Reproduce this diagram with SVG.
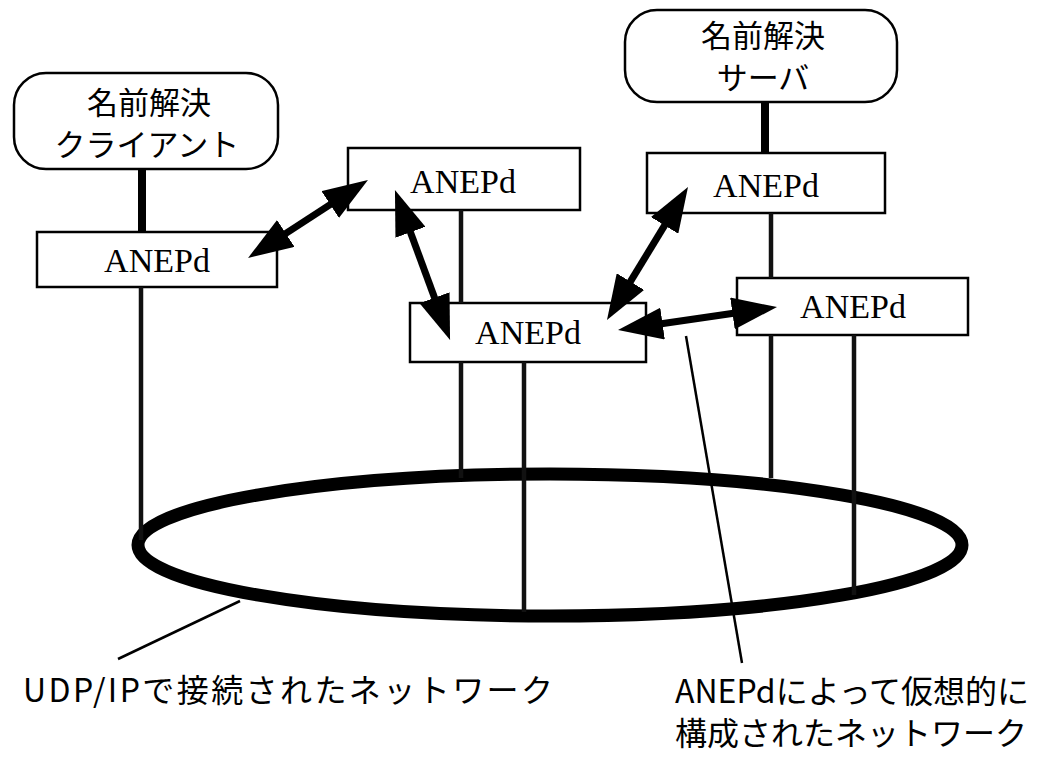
<svg xmlns="http://www.w3.org/2000/svg" width="1045" height="759" viewBox="0 0 1045 759">
<style>
.rbox{fill:#fff;stroke:#000;stroke-width:2.5}
.box{fill:#fff;stroke:#000;stroke-width:2.5}
.jp{font-family:"Noto Sans CJK JP","Noto Sans",sans-serif;font-size:32px;fill:#000}
.jn{font-family:"Noto Sans CJK JP","Noto Sans",sans-serif;font-size:31px;fill:#000}
.an{font-family:"Liberation Serif",serif;font-size:34px;fill:#000}
.link{stroke:#000;stroke-width:8}
.drop{stroke:#111;stroke-width:4.5}
.arrow{stroke:#000;stroke-width:7;marker-start:url(#ah);marker-end:url(#ah)}
.lead{stroke:#000;stroke-width:2.5;fill:none}
</style>
<defs>
<marker id="ah" viewBox="0 0 45 32" refX="15" refY="16" markerWidth="45" markerHeight="32" markerUnits="userSpaceOnUse" orient="auto-start-reverse">
<path d="M0,0 L45,16 L0,32 z" fill="#000"/>
</marker>
</defs>
<rect width="1045" height="759" fill="#fff"/>
<g id="network">
<ellipse cx="550" cy="545" rx="412" ry="71" fill="none" stroke="#000" stroke-width="13"/>
</g>
<g id="client">
<rect class="rbox" x="14" y="73" width="264" height="96" rx="32"/>
<text class="jn" x="149" y="114" text-anchor="middle">名前解決</text>
<text class="jn" x="147" y="156" text-anchor="middle">クライアント</text>
</g>
<g id="server">
<rect class="rbox" x="625" y="10" width="272" height="92" rx="32"/>
<text class="jn" x="763" y="47" text-anchor="middle">名前解決</text>
<text class="jn" x="763" y="89" text-anchor="middle">サーバ</text>
</g>
<g id="anepd-client">
<rect class="box" x="37" y="232" width="240" height="55"/>
<text class="an" x="157" y="272" text-anchor="middle">ANEPd</text>
</g>
<g id="anepd-top">
<rect class="box" x="348" y="148" width="232" height="62"/>
<text class="an" x="463" y="193" text-anchor="middle">ANEPd</text>
</g>
<g id="anepd-server">
<rect class="box" x="647" y="153" width="238" height="60"/>
<text class="an" x="766" y="197" text-anchor="middle">ANEPd</text>
</g>
<g id="anepd-center">
<rect class="box" x="410" y="303" width="236" height="59"/>
<text class="an" x="528" y="344" text-anchor="middle">ANEPd</text>
</g>
<g id="anepd-right">
<rect class="box" x="737" y="278" width="231" height="57"/>
<text class="an" x="853" y="318" text-anchor="middle">ANEPd</text>
</g>
<g id="connectors">
<line class="link" x1="142" y1="169" x2="142" y2="232"/>
<line class="link" x1="765" y1="102" x2="765" y2="153"/>
<line class="drop" x1="141" y1="287" x2="141" y2="540"/>
<line class="drop" x1="461" y1="210" x2="461" y2="303"/>
<line class="drop" x1="461" y1="362" x2="461" y2="478"/>
<line class="drop" x1="524" y1="362" x2="524" y2="612"/>
<line class="drop" x1="771" y1="213" x2="771" y2="278"/>
<line class="drop" x1="771" y1="335" x2="771" y2="478"/>
<line class="drop" x1="854" y1="335" x2="854" y2="595"/>
<line class="arrow" x1="273.2" y1="241.6" x2="342.8" y2="196.4"/>
<line class="arrow" x1="405.3" y1="218.2" x2="439.7" y2="311.8"/>
<line class="arrow" x1="672.4" y1="212.6" x2="622.6" y2="294.4"/>
<line class="arrow" x1="647.7" y1="325.7" x2="747.3" y2="311.3"/>
<line class="lead" x1="240" y1="601" x2="118" y2="659"/>
<line class="lead" x1="686" y1="336" x2="742" y2="663"/>
</g>
<g id="labels">
<text class="jp" x="23" y="702" textLength="530" lengthAdjust="spacing">UDP/IPで接続されたネットワーク</text>
<text class="jp" x="675" y="703">ANEPdによって仮想的に</text>
<text class="jp" x="675" y="745">構成されたネットワーク</text>
</g>
</svg>
